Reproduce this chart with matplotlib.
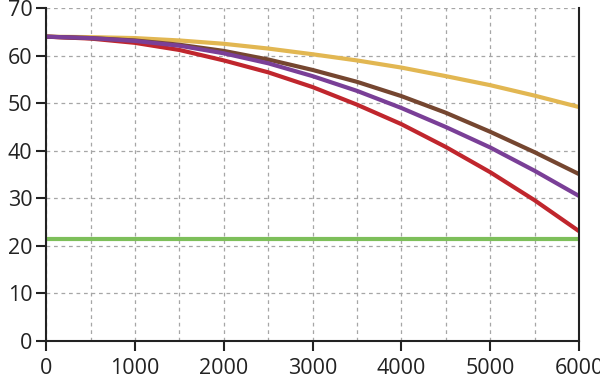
import matplotlib
matplotlib.use("Agg")
import matplotlib.pyplot as plt
from matplotlib.ticker import MultipleLocator

x = [0, 500, 1000, 1500, 2000, 2500, 3000, 3500, 4000, 4500, 5000, 5500, 6000]
yellow = [64, 63.9, 63.7, 63.2, 62.5, 61.5, 60.3, 59.0, 57.5, 55.7, 53.8, 51.6, 49.2]
brown = [64, 63.7, 63.2, 62.3, 61.0, 59.2, 57.0, 54.5, 51.5, 48.0, 44.0, 39.7, 35.1]
purple = [64, 63.7, 63.1, 62.1, 60.5, 58.4, 55.7, 52.6, 49.0, 45.0, 40.7, 35.8, 30.5]
red = [64, 63.6, 62.7, 61.2, 59.0, 56.5, 53.4, 49.7, 45.6, 40.8, 35.5, 29.6, 23.1]
green = [21.5] * len(x)

plt.rcParams["font.family"] = ["Open Sans", "DejaVu Sans"]
plt.rcParams["font.size"] = 15.5

fig = plt.figure(figsize=(6, 3.8), dpi=100)
ax = fig.add_axes([0.077, 0.1026, 0.888, 0.876])

ax.plot(x, green, color="#7dbf5a", lw=3, solid_capstyle="butt")
ax.plot(x, yellow, color="#e2b752", lw=3, solid_capstyle="butt")
ax.plot(x, red, color="#c0262d", lw=3, solid_capstyle="butt")
ax.plot(x, brown, color="#754630", lw=3, solid_capstyle="butt")
ax.plot(x, purple, color="#7a3f97", lw=3, solid_capstyle="butt")

ax.set_xlim(0, 6000)
ax.set_ylim(0, 70)
ax.xaxis.set_major_locator(MultipleLocator(1000))
ax.xaxis.set_minor_locator(MultipleLocator(500))
ax.yaxis.set_major_locator(MultipleLocator(10))
ax.grid(True, which="both", linestyle=(0, (3, 3)), color="#a6a6a6", lw=0.9)
ax.set_axisbelow(True)

ax.spines["top"].set_visible(False)
for s in ("left", "bottom", "right"):
    ax.spines[s].set_linewidth(1.5)
    ax.spines[s].set_color("#222222")
ax.tick_params(which="major", length=7, width=1.5, color="#222222", labelcolor="#222222")
ax.tick_params(which="minor", length=0)
ax.tick_params(axis="x", pad=5)
ax.tick_params(axis="y", pad=3)

fig.savefig("out.png", dpi=100)
